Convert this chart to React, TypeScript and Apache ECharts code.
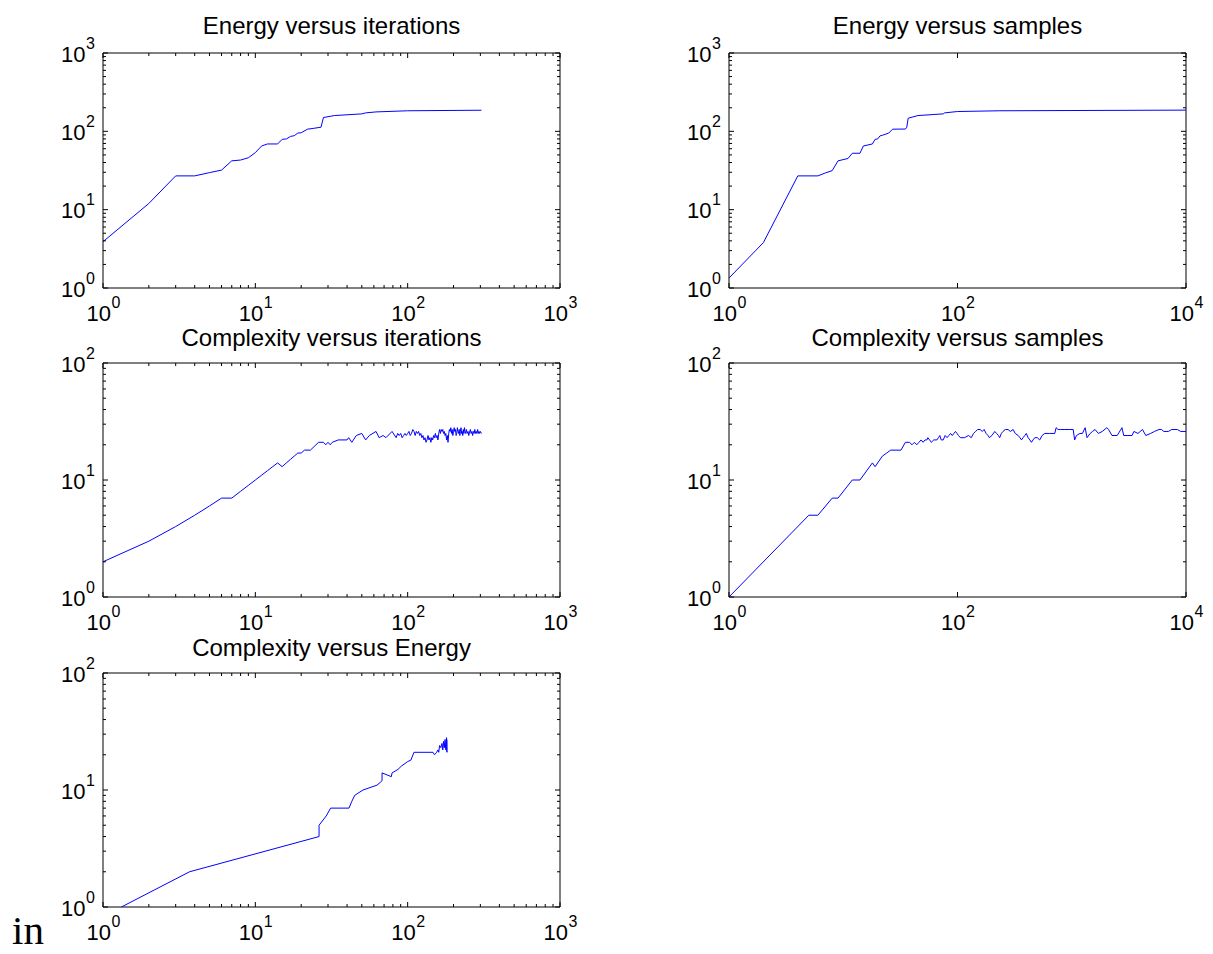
import { useEffect, useRef } from 'react';
import * as echarts from 'echarts';

const FONT = '"Liberation Sans", Arial, Helvetica, sans-serif';

const titles = [
  'Energy versus iterations',
  'Energy versus samples',
  'Complexity versus iterations',
  'Complexity versus samples',
  'Complexity versus Energy',
];

// [iteration, energy]
const energyVsIterations: number[][] = [
  [1, 3.9], [2, 12], [3, 27], [4, 27], [5, 29.7], [6, 32], [7, 42], [8, 43], [9, 46], [10, 53.5],
  [11, 65], [12, 69], [14, 69], [15, 79], [16, 80], [17, 86], [18, 88], [19, 95], [20, 96], [22, 106.5],
  [24, 109], [27, 113], [28, 150], [33, 159], [50, 167], [53, 172], [62, 177], [100, 183], [305, 186],
];

// [samples, energy]
const energyVsSamples: number[][] = [
  [1, 1.34], [2, 3.8], [4, 27], [6, 27], [7, 29.5], [8, 31.5], [9, 42], [11, 45], [12, 52.5], [14, 52.5],
  [15, 65], [18, 69], [19, 79], [20, 80], [21, 87.5], [22, 89], [25, 95], [27, 106.5], [35, 107], [36, 113],
  [37, 147], [45, 159], [75, 167], [77, 172], [100, 179], [235, 183], [10000, 186.6],
];

// [iteration, complexity]
const complexityVsIterations: number[][] = [
  [1, 2], [2, 3], [3, 4], [4, 5], [5, 6], [6, 7], [7, 7], [8, 8], [9, 9], [10, 10],
  [11, 11], [12, 12], [13, 13], [14, 14], [15, 13], [16, 14], [17, 15], [18, 16], [19, 17], [20, 17],
  [21, 18], [23, 18], [25, 20], [26, 21], [28, 21], [29, 20], [30, 21], [31, 20], [32, 21], [35, 22],
  [40, 22], [41, 23], [43, 21], [46, 24], [50, 25], [53, 22], [56, 24], [62, 26], [65, 23], [69, 24],
  [72, 23], [79, 26], [84, 23], [86, 25], [88, 24], [90, 25], [92, 23], [94, 24], [96, 25], [98, 24],
  [100, 25], [102, 26], [104, 24], [106, 25], [108, 27], [110, 26], [112, 24], [114, 26], [116, 25], [118, 26],
  [120, 24], [122, 25], [124, 23], [126, 24], [128, 22], [130, 23], [132, 21], [134, 22], [136, 24], [138, 22],
  [140, 23], [142, 21], [144, 23], [146, 22], [148, 24], [150, 23], [152, 25], [154, 23], [156, 24], [158, 22],
  [160, 25], [162, 27], [164, 25], [166, 27], [168, 26], [170, 27], [172, 25], [174, 26], [176, 24], [178, 25],
  [180, 22], [182, 24], [184, 21], [186, 25], [188, 27], [190, 26], [192, 28], [194, 25], [196, 27], [198, 24],
  [200, 26], [202, 28], [204, 26], [206, 27], [208, 24], [210, 25], [212, 28], [214, 26], [216, 25], [218, 27],
  [220, 24], [222, 26], [224, 28], [226, 25], [228, 26], [230, 24], [232, 27], [234, 25], [236, 28], [238, 26],
  [240, 25], [243, 27], [246, 25], [249, 26], [252, 24], [255, 26], [258, 27], [261, 25], [264, 26], [267, 24],
  [270, 26], [273, 25], [276, 27], [279, 25], [282, 26], [285, 25], [288, 27], [291, 25], [294, 26], [297, 25],
  [300, 26], [305, 25],
];

// [samples, complexity]
const complexityVsSamples: number[][] = [
  [1, 1], [5, 5], [6, 5], [8, 7], [9, 7], [12, 10], [14, 10], [18, 14], [19, 13], [22, 16],
  [24, 17], [26, 18], [32, 18], [35, 21], [38, 21], [40, 20], [42, 21], [44, 20], [46, 21], [48, 22],
  [50, 21], [52, 22], [54, 22], [55, 23], [57, 22], [59, 21], [62, 22], [66, 22], [68, 23], [70, 24],
  [72, 22], [75, 22], [78, 24], [81, 23], [84, 24], [87, 25], [90, 24], [93, 25], [96, 26], [99, 25],
  [102, 24], [106, 23], [115, 23], [125, 24], [132, 23], [138, 25], [144, 26], [150, 27], [158, 27], [165, 26],
  [171, 27], [178, 25], [185, 24], [190, 23], [200, 24], [212, 26], [220, 25], [228, 24], [234, 23], [242, 25],
  [250, 26], [262, 27], [277, 27], [290, 26], [307, 27], [320, 25], [340, 24], [352, 23], [363, 22], [375, 23],
  [388, 24], [400, 25], [415, 23], [430, 22], [444, 21], [458, 22], [475, 23], [500, 23], [524, 22], [550, 24],
  [580, 25], [640, 25], [710, 25], [730, 28], [760, 27], [800, 27], [870, 27], [950, 27], [1030, 27], [1060, 22],
  [1100, 24], [1180, 25], [1240, 25], [1310, 28], [1360, 23], [1450, 25], [1520, 26], [1600, 27], [1710, 25], [1850, 26],
  [2030, 28], [2100, 27], [2250, 24], [2500, 24], [2750, 28], [2850, 24], [3100, 24], [3370, 24], [3500, 26], [3800, 25],
  [4160, 27], [4450, 24], [4900, 25], [5300, 26], [5800, 27], [6100, 27], [6400, 26], [7000, 26], [7500, 27], [8400, 27],
  [9000, 26], [10000, 26],
];

// [energy, complexity]
const complexityVsEnergy: number[][] = [
  [1.32, 1], [3.7, 2], [26.2, 4], [26.2, 5], [29.2, 6], [31.2, 7], [41.2, 7], [43, 8], [44.9, 9], [50.9, 10],
  [62.9, 11], [66, 11.6], [67.9, 12], [67.9, 14], [78.1, 13], [79, 14], [86.4, 15], [90.9, 16], [100, 17.5], [105, 18],
  [110, 21], [146.7, 21], [150, 20], [155, 21], [158, 22], [160, 21], [162, 24], [165, 23], [168, 25], [170, 22],
  [172, 26], [174, 23], [176, 27], [178, 22], [180, 28], [181, 21], [181, 27],
];

const seriesData = [energyVsIterations, energyVsSamples, complexityVsIterations, complexityVsSamples, complexityVsEnergy];

// decade exponents of each axis [low, high]
const xDecades = [[0, 3], [0, 4], [0, 3], [0, 4], [0, 3]];
const yDecades = [[0, 3], [0, 3], [0, 2], [0, 2], [0, 2]];
const xLabelStep = [1, 2, 1, 2, 1];

const grids = [
  { left: 103, top: 53, width: 457, height: 235 },
  { left: 729, top: 53, width: 457, height: 235 },
  { left: 103, top: 363, width: 457, height: 234 },
  { left: 729, top: 363, width: 457, height: 234 },
  { left: 103, top: 673, width: 457, height: 234 },
];

function decadeTicks(lo: number, hi: number, step: number, minor: boolean): number[] {
  const out: number[] = [];
  for (let k = lo; k <= hi; k += step) {
    out.push(Math.pow(10, k));
    if (minor && step === 1 && k < hi) {
      for (let m = 2; m <= 9; m++) out.push(m * Math.pow(10, k));
    }
  }
  return out;
}

function isMajor(v: number) {
  const l = Math.log10(v);
  return Math.abs(l - Math.round(l)) < 1e-6;
}

const BASE_SIZE = 22;
const SUP_SIZE = 16;

function baseText(x: number, y: number, text: string) {
  return {
    type: 'text', x, y,
    style: { text, fontSize: BASE_SIZE, fontFamily: FONT, fill: '#000', align: 'right', verticalAlign: 'middle' },
  };
}
function supText(x: number, y: number, text: string) {
  return {
    type: 'text', x, y,
    style: { text, fontSize: SUP_SIZE, fontFamily: FONT, fill: '#000', align: 'left', verticalAlign: 'middle' },
  };
}

export default function App() {
  const ref = useRef<HTMLDivElement>(null);
  useEffect(() => {
    if (!ref.current) return;
    const chart = echarts.init(ref.current, undefined, { renderer: 'svg' });

    const xAxis: any[] = [];
    const yAxis: any[] = [];
    const series: any[] = [];
    const title: any[] = [];

    grids.forEach((g, i) => {
      const [xl, xh] = xDecades[i];
      const [yl, yh] = yDecades[i];
      title.push({
        text: titles[i],
        left: g.left + g.width / 2,
        top: i < 2 ? g.top - 40 : g.top - 37.5,
        textAlign: 'center',
        padding: 0,
        textStyle: { fontSize: 24, fontWeight: 'normal', color: '#000', fontFamily: FONT },
      });
      const axisCommon = {
        type: 'log', logBase: 10, gridIndex: i,
        axisLine: { show: false }, axisTick: { show: false }, splitLine: { show: false },
        axisLabel: { show: false },
      };
      xAxis.push({ ...axisCommon, min: Math.pow(10, xl), max: Math.pow(10, xh) });
      yAxis.push({ ...axisCommon, min: Math.pow(10, yl), max: Math.pow(10, yh) });

      series.push({
        type: 'line', xAxisIndex: i, yAxisIndex: i, data: seriesData[i],
        showSymbol: false, symbol: 'none',
        lineStyle: { color: '#0000ff', width: 1 }, itemStyle: { color: '#0000ff' }, z: 3,
      });

      const st = { stroke: '#000', lineWidth: 1 };
      // x ticks (bottom and top edges)
      series.push({
        type: 'custom', xAxisIndex: i, yAxisIndex: i, clip: false, silent: true, z: 4,
        encode: { x: 0, y: 1 },
        data: decadeTicks(xl, xh, xLabelStep[i], true).map((v) => [v, Math.pow(10, yl)]),
        renderItem: (params: any, api: any) => {
          const v = api.value(0);
          const cs = params.coordSys;
          const px = api.coord([v, api.value(1)])[0];
          const len = isMajor(v) ? 5 : 3;
          const bottom = cs.y + cs.height;
          const top = cs.y;
          return {
            type: 'group',
            children: [
              { type: 'line', shape: { x1: px, y1: bottom, x2: px, y2: bottom - len }, style: st },
              { type: 'line', shape: { x1: px, y1: top, x2: px, y2: top + len }, style: st },
            ],
          };
        },
      });
      // y ticks (left and right edges)
      series.push({
        type: 'custom', xAxisIndex: i, yAxisIndex: i, clip: false, silent: true, z: 4,
        encode: { x: 0, y: 1 },
        data: decadeTicks(yl, yh, 1, true).map((v) => [Math.pow(10, xl), v]),
        renderItem: (params: any, api: any) => {
          const v = api.value(1);
          const cs = params.coordSys;
          const py = api.coord([api.value(0), v])[1];
          const len = isMajor(v) ? 5 : 3;
          const left = cs.x;
          const right = cs.x + cs.width;
          return {
            type: 'group',
            children: [
              { type: 'line', shape: { x1: left, y1: py, x2: left + len, y2: py }, style: st },
              { type: 'line', shape: { x1: right, y1: py, x2: right - len, y2: py }, style: st },
            ],
          };
        },
      });
      // x tick labels 10^k
      series.push({
        type: 'custom', xAxisIndex: i, yAxisIndex: i, clip: false, silent: true, z: 5,
        encode: { x: 0, y: 1 },
        data: decadeTicks(xl, xh, xLabelStep[i], false).map((v) => [v, Math.pow(10, yl)]),
        renderItem: (params: any, api: any) => {
          const v = api.value(0);
          const cs = params.coordSys;
          const px = api.coord([v, api.value(1)])[0];
          const bottom = cs.y + cs.height;
          const e = String(Math.round(Math.log10(v)));
          return {
            type: 'group',
            children: [baseText(px + 8, bottom + 25, '10'), supText(px + 8.5, bottom + 14.5, e)],
          };
        },
      });
      // y tick labels 10^k
      series.push({
        type: 'custom', xAxisIndex: i, yAxisIndex: i, clip: false, silent: true, z: 5,
        encode: { x: 0, y: 1 },
        data: decadeTicks(yl, yh, 1, false).map((v) => [Math.pow(10, xl), v]),
        renderItem: (params: any, api: any) => {
          const v = api.value(1);
          const cs = params.coordSys;
          const py = api.coord([api.value(0), v])[1];
          const e = String(Math.round(Math.log10(v)));
          return {
            type: 'group',
            children: [baseText(cs.x - 17.5, py + 1, '10'), supText(cs.x - 17, py - 10, e)],
          };
        },
      });
    });

    chart.setOption({
      animation: false,
      backgroundColor: '#fff',
      textStyle: { fontFamily: FONT },
      title,
      grid: grids.map((g) => ({
        ...g, show: true, borderColor: '#000', borderWidth: 1,
        backgroundColor: 'rgba(0,0,0,0)', containLabel: false, outerBoundsMode: 'none',
      })),
      xAxis,
      yAxis,
      series,
      graphic: [
        {
          type: 'text', x: 12, y: 930,
          style: { text: 'in', fontSize: 41, fontFamily: '"Liberation Serif", "Times New Roman", serif', fill: '#000', verticalAlign: 'middle' },
        },
      ],
    });
    return () => chart.dispose();
  }, []);
  return <div ref={ref} style={{ position: 'absolute', left: 0, top: 0, width: 1213, height: 954 }} />;
}
